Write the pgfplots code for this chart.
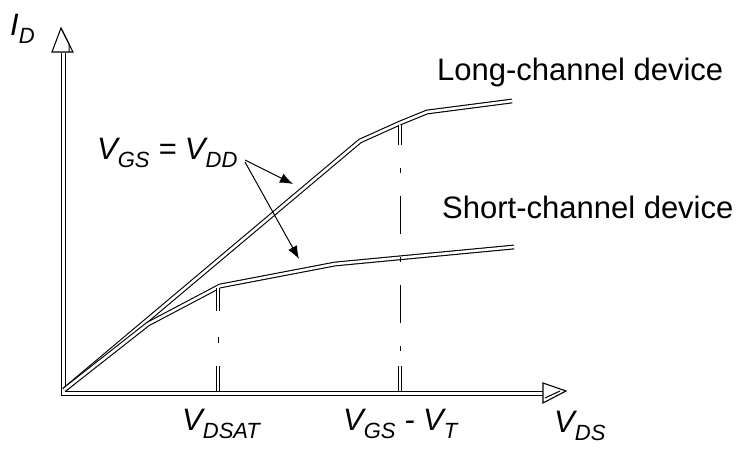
\documentclass[border=0pt]{standalone}
\usepackage{pgfplots}
\pgfplotsset{compat=1.18}
\usepackage{fontspec}
\setmainfont{Liberation Sans}
\usetikzlibrary{arrows.meta}
% lowered, smaller subscript in the surrounding shape
\newcommand{\sub}[1]{\raisebox{-8pt}{\fontsize{22}{22}\selectfont #1}}
\tikzset{
  lbl/.style={font=\fontsize{31}{36}\selectfont, inner sep=0pt},
  hollow/.style={double, line width=1.1pt, double distance=2.6pt, line join=miter, line cap=butt},
}
\begin{document}
\begin{tikzpicture}
\begin{axis}[
  width=745pt, height=450pt, scale only axis,
  xmin=0, xmax=745, ymin=0, ymax=450, y dir=reverse,
  hide axis, clip=false,
]
% keep the full drawing area as the picture's extent
\path (axis cs:0,0) rectangle (axis cs:745,450);
% axes drawn as hollow double lines
\draw[double, line width=1.2pt, double distance=3pt, line join=miter]
  (axis cs:63.5,53) -- (axis cs:63.5,393.5) -- (axis cs:543,393.5);
% open arrow heads
\draw[line width=1.1pt, fill=white, line join=miter] (axis cs:52,52) -- (axis cs:61,28) -- (axis cs:73,52) -- cycle;
\draw[line width=1pt] (axis cs:61,28) -- (axis cs:69,44) -- (axis cs:69,52);
\draw[line width=1.1pt, fill=white, line join=miter] (axis cs:543,383) -- (axis cs:566,391) -- (axis cs:543,403) -- cycle;
\draw[line width=1pt] (axis cs:545,398) -- (axis cs:560,391);

% long-channel characteristic
\addplot[hollow] coordinates {(64,390) (360,141) (400,123) (427,112) (512,101)};
% short-channel characteristic
\addplot[hollow] coordinates {(64,390) (148,324) (220,286) (335,264) (514,247)};

% saturation guides
\addplot[hollow] coordinates {(218,288) (218,311)};
\addplot[hollow] coordinates {(218,366) (218,391)};
\addplot[line width=1pt] coordinates {(218,337) (218,343)};
\addplot[hollow] coordinates {(400,125) (400,145)};
\addplot[hollow] coordinates {(400,366) (400,391)};
\addplot[line width=1pt, dash pattern=on 5pt off 23pt on 38pt off 23pt] coordinates {(400,168) (400,366)};

% pointers from the gate-voltage label
\draw[line width=1pt, -{Latex[length=13pt, width=10pt]}] (axis cs:245,160) -- (axis cs:293,184);
\draw[line width=1pt, -{Latex[length=13pt, width=10pt]}] (axis cs:245,162) -- (axis cs:299,259);

% labels
\node[lbl, anchor=base west] at (axis cs:10,35) {\itshape I\sub{D}};
\node[lbl, anchor=base west] at (axis cs:554,432) {\itshape V\sub{DS}};
\node[lbl, anchor=base west] at (axis cs:182,430) {\itshape V\sub{DSAT}};
\node[lbl, anchor=base west] at (axis cs:343,430) {\itshape V\sub{GS} - V\sub{T}};
\node[lbl, anchor=base west] at (axis cs:97,159) {\itshape V\sub{GS} = V\sub{DD}};
\node[lbl, anchor=base west] at (axis cs:437,80) {Long-channel device};
\node[lbl, anchor=base west] at (axis cs:442,218) {Short-channel device};
\end{axis}
\end{tikzpicture}
\end{document}
